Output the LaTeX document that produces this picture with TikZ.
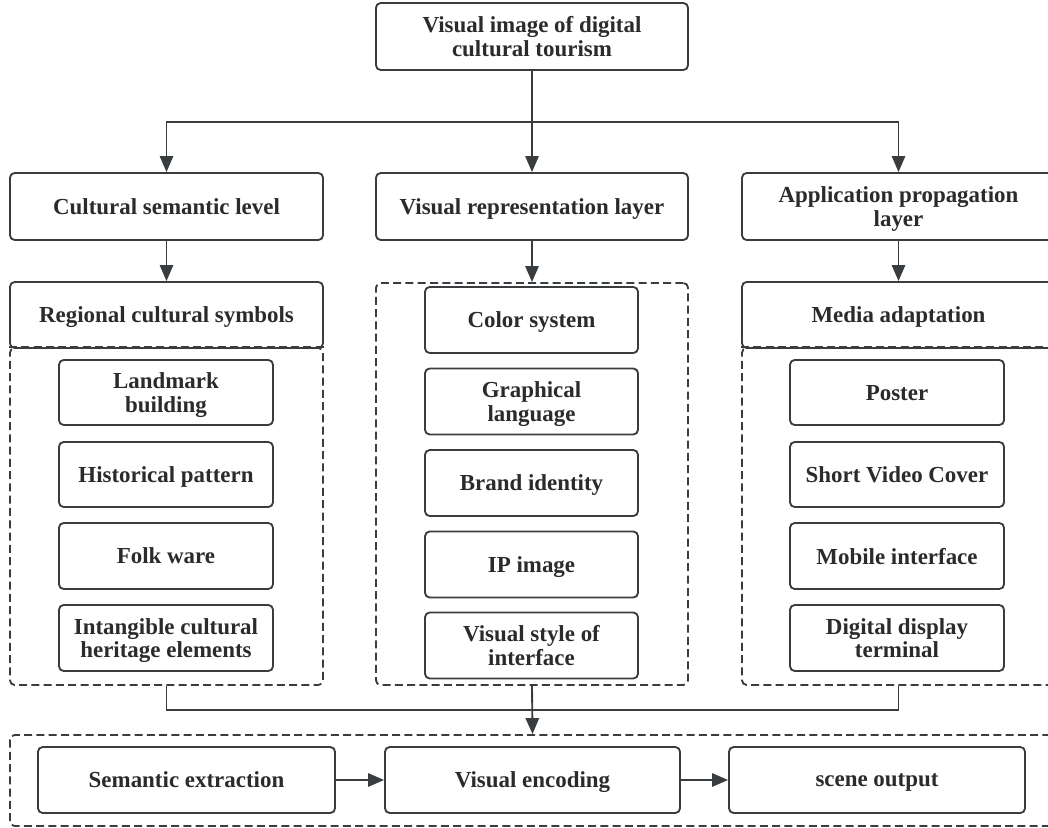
\documentclass[tikz,border=0pt]{standalone}
\usepackage{fontspec}
\setmainfont{Liberation Serif}
\usetikzlibrary{arrows.meta}
\definecolor{ln}{HTML}{3A3D40}
\definecolor{tx}{HTML}{2B2B2B}
\tikzset{
  sz/.style 2 args={minimum width=#1*0.75pt, minimum height=#2*0.75pt},
  box/.style={draw=ln, line width=1.4pt, rounded corners=3.5pt, fill=white,
    text=tx, font=\fontsize{17.2}{17.4}\selectfont\bfseries, align=center,
    inner sep=0pt, text depth=0pt},
  dbox/.style={draw=ln, line width=1.4pt, rounded corners=3.5pt,
    dash pattern=on 6pt off 3.2pt, inner sep=0pt},
  arr/.style={draw=ln, line width=1.4pt, -{Triangle[length=12pt,width=10pt]}},
  ln/.style={draw=ln, line width=1.4pt}
}
\begin{document}
\begin{tikzpicture}[x=0.75pt, y=-0.75pt]
\useasboundingbox (0,0) rectangle (1048,827);
\clip (0,0) rectangle (1048,827);
% containers
\node[dbox, sz={313}{337}] (lc) at (166.5,516.5) {};
\node[dbox, sz={312}{402}] (mc) at (532,484) {};
\node[dbox, sz={313}{337}] (rc) at (898.5,516.5) {};
\node[dbox, sz={1045}{91}] (bd) at (532.5,780.5) {};
% top
\node[box, sz={312}{67}] (top) at (532,36.5) {Visual image of digital\\cultural tourism};
% levels
\node[box, sz={313}{67}] (csl) at (166.5,206.5) {Cultural semantic level};
\node[box, sz={312}{67}] (vrl) at (532,206.5) {Visual representation layer};
\node[box, sz={313}{67}] (apl) at (898.5,206.5) {Application propagation\\layer};
\node[box, sz={313}{66}] (rcs) at (166.5,315) {Regional cultural symbols};
\node[box, sz={313}{66}] (ma) at (898.5,315) {Media adaptation};
\draw[dbox] (lc.north west) -- (lc.north east);
\draw[dbox] (rc.north west) -- (rc.north east);
% left inner
\node[box, sz={214}{65}] (l1) at (166,392.5) {Landmark\\building};
\node[box, sz={214}{65}] (l2) at (166,474.5) {Historical pattern};
\node[box, sz={214}{66}] (l3) at (166,556) {Folk ware};
\node[box, sz={214}{66}] (l4) at (166,638) {Intangible cultural\\heritage elements};
% middle inner
\node[box, sz={213}{66}] (m1) at (531.5,320) {Color system};
\node[box, sz={213}{66}] (m2) at (531.5,401.5) {Graphical\\language};
\node[box, sz={213}{66}] (m3) at (531.5,483) {Brand identity};
\node[box, sz={213}{66}] (m4) at (531.5,564.5) {IP image};
\node[box, sz={213}{66}] (m5) at (531.5,645.5) {Visual style of\\interface};
% right inner
\node[box, sz={214}{65}] (r1) at (897,392.5) {Poster};
\node[box, sz={214}{65}] (r2) at (897,474.5) {Short Video Cover};
\node[box, sz={214}{66}] (r3) at (897,556) {Mobile interface};
\node[box, sz={214}{66}] (r4) at (897,638) {Digital display\\terminal};
% bottom
\node[box, sz={297}{66}] (b1) at (186.5,780) {Semantic extraction};
\node[box, sz={295}{66}] (b2) at (532.5,780) {Visual encoding};
\node[box, sz={296}{66}] (b3) at (877,780) {scene output};
% connectors
\coordinate (j) at (532,122);
\draw[ln] (top.south) -- (j);
\draw[arr] (j) -| (csl.north);
\draw[arr] (j) -| (apl.north);
\draw[arr] (j) -- (vrl.north);
\draw[arr] (csl) -- (rcs);
\draw[arr] (apl) -- (ma);
\draw[arr] (vrl.south) -- (mc.north);
\coordinate (k) at (532,710);
\draw[ln] (lc.south) |- (k) -| (rc.south);
\draw[arr] (mc.south) -- (bd.north);
\draw[arr] (b1) -- (b2);
\draw[arr] (b2) -- (b3);
\end{tikzpicture}
\end{document}
